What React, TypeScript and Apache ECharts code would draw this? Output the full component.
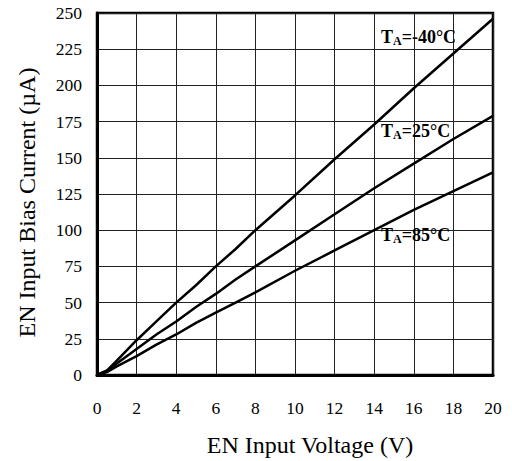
import React, { useEffect, useRef } from 'react';
import * as echarts from 'echarts';

// EN input voltage (V)
const voltage = [0, 0.5, 1, 2, 3, 4, 5, 6, 7, 8, 10, 12, 14, 16, 18, 20];
// EN input bias current (µA) for each ambient temperature
const biasM40 = [0, 3, 10, 24, 37, 50, 62, 75, 87, 100, 124, 149, 173, 198, 222, 246];
const bias25 = [0, 3, 8, 18, 28, 37, 47, 56, 66, 75, 93, 111, 129, 146, 163, 179];
const bias85 = [0, 2, 6, 13, 21, 28, 36, 43, 50, 57, 72, 86, 100, 114, 127, 140];

const temperatures = ['-40°C', '25°C', '85°C'];
const xAxisTitle = 'EN Input Voltage (V)';
const yAxisTitle = 'EN Input Bias Current (µA)';

const FONT = '"Liberation Serif", "Times New Roman", Times, serif';

export default function App() {
  const ref = useRef<HTMLDivElement>(null);

  useEffect(() => {
    if (!ref.current) return;
    const chart = echarts.init(ref.current, null, { renderer: 'svg' });
    const pairs = (vals: number[]) => voltage.map((v, i) => [v, vals[i]]);
    const seriesData = [biasM40, bias25, bias85];
    const labelY = [37.4, 131, 235];

    const rich = {
      t: { fontSize: 18, fontWeight: 'bold', fontFamily: FONT, lineHeight: 20, fill: '#000', color: '#000' },
      s: { fontSize: 12, fontWeight: 'bold', fontFamily: FONT, verticalAlign: 'bottom', fill: '#000', color: '#000' },
    };

    chart.setOption({
      animation: false,
      backgroundColor: '#fff',
      grid: {
        left: 97,
        top: 13,
        right: 19,
        bottom: 86,
        show: true,
        borderColor: '#000',
        borderWidth: 2.5,
        outerBoundsMode: 'none',
      },
      xAxis: {
        type: 'value',
        min: 0,
        max: 20,
        interval: 2,
        name: xAxisTitle,
        nameLocation: 'middle',
        nameGap: 58,
        nameTextStyle: { fontFamily: FONT, fontSize: 24, color: '#000', padding: [0, 0, 0, 30] },
        axisLine: { show: true, lineStyle: { color: '#000', width: 3 } },
        axisTick: { show: false },
        axisLabel: { fontFamily: FONT, fontSize: 17.5, color: '#000', margin: 24 },
        splitLine: { show: true, lineStyle: { color: '#222', width: 1 } },
      },
      yAxis: {
        type: 'value',
        min: 0,
        max: 250,
        interval: 25,
        name: yAxisTitle,
        nameLocation: 'middle',
        nameGap: 58,
        nameTextStyle: { fontFamily: FONT, fontSize: 24, color: '#000', padding: [0, 17, 0, 0] },
        axisLine: { show: true, lineStyle: { color: '#000', width: 3 } },
        axisTick: { show: false },
        axisLabel: { fontFamily: FONT, fontSize: 17.5, color: '#000', margin: 15 },
        splitLine: { show: true, lineStyle: { color: '#222', width: 1 } },
      },
      series: seriesData.map((vals, i) => ({
        name: 'TA=' + temperatures[i],
        type: 'line',
        data: pairs(vals),
        showSymbol: false,
        symbol: 'none',
        lineStyle: { color: '#000', width: 2.5 },
        z: 5,
      })),
      graphic: temperatures.map((t, i) => ({
        type: 'text',
        x: 381,
        y: labelY[i],
        z: 10,
        style: {
          text: '{t|T}{s|A}{t|=' + t + '}',
          rich,
          verticalAlign: 'middle',
          align: 'left',
          fill: '#000',
        },
      })),
    });

    return () => chart.dispose();
  }, []);

  return (
    <div
      ref={ref}
      style={{ position: 'fixed', left: 0, top: 0, width: 512, height: 461, background: '#fff' }}
    />
  );
}
